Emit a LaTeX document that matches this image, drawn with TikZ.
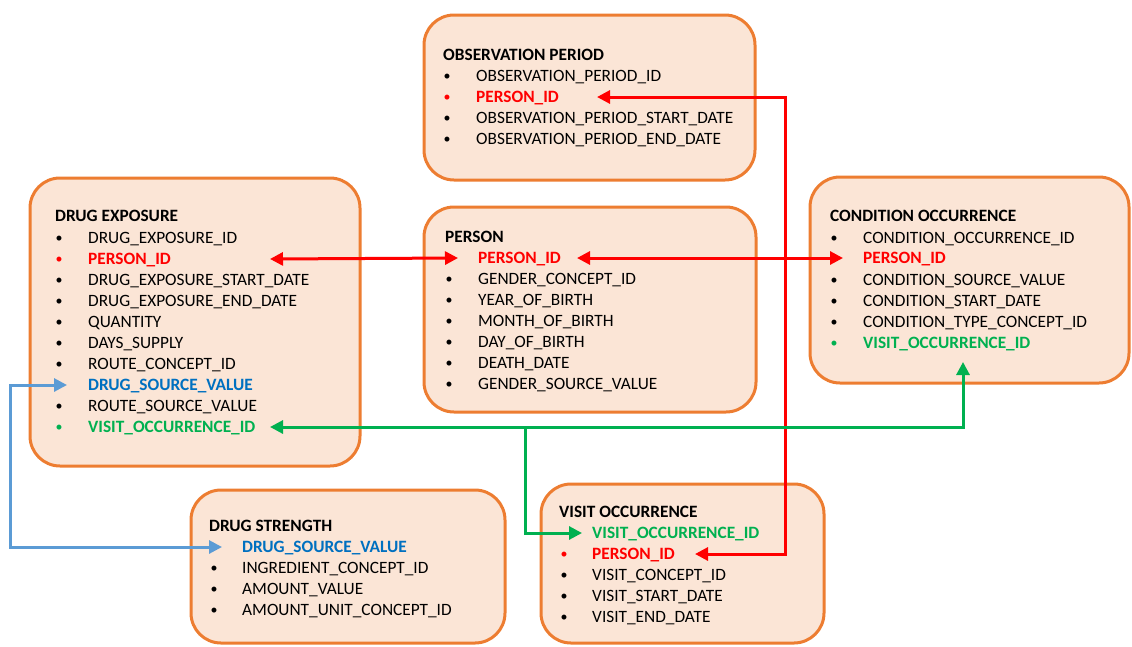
\documentclass[tikz,border=0pt]{standalone}
\usepackage{fontspec}
\setmainfont{Carlito}
\usepackage{xcolor}
\usetikzlibrary{arrows.meta}
\definecolor{tblfill}{HTML}{FBE5D6}
\definecolor{tblline}{HTML}{ED7D31}
\definecolor{keyred}{HTML}{FF0000}
\definecolor{keygreen}{HTML}{00B050}
\definecolor{keyblue}{HTML}{0070C0}
\definecolor{linkblue}{HTML}{5B9BD5}
\tikzset{
	tbl/.style={draw=tblline,fill=tblfill,line width=3pt,rounded corners=30pt},
	fld/.style={anchor=west,inner sep=0pt,text height=11pt,text depth=1pt,font=\fontsize{17.3}{20}\selectfont},
	ttl/.style={fld,font=\fontsize{17.3}{20}\selectfont\bfseries},
	keyfld/.style={fld,font=\fontsize{17.3}{20}\selectfont\bfseries},
	dot/.style={anchor=base,inner sep=0pt,font=\fontsize{14}{16}\selectfont},
	link/.style={line width=3pt,{Triangle[length=13pt,width=13pt]}-{Triangle[length=13pt,width=13pt]}},
	tip/.style={line width=3pt,-{Triangle[length=13pt,width=13pt]}}
}
\begin{document}
\begin{tikzpicture}[x=1pt,y=-1pt]
					\useasboundingbox (0,0) rectangle (1132,646);
					\clip (0,0) rectangle (1132,646);
					\filldraw[tbl](424,15)rectangle(755,180);
					\filldraw[tbl](30,178)rectangle(360,466);
					\filldraw[tbl](424,207)rectangle(756,412);
					\filldraw[tbl](810,177)rectangle(1129,383);
					\filldraw[tbl](191,490)rectangle(505,643);
					\filldraw[tbl](541,484)rectangle(824,643);

					\node[ttl] (obs) at (443,55){OBSERVATION PERIOD};
					\node[dot] (obs-b1) at (447,80.5){\textbullet};
					\node[fld] (obs-1) at (476,76){OBSERVATION\_PERIOD\_ID};
					\node[dot,keyred] (obs-b2) at (447,101.5){\textbullet};
					\node[keyfld,keyred] (obs-pid) at (476,97){PERSON\_ID};
					\node[dot] (obs-b3) at (447,122.5){\textbullet};
					\node[fld] (obs-3) at (476,118){OBSERVATION\_PERIOD\_START\_DATE};
					\node[dot] (obs-b4) at (447,143.5){\textbullet};
					\node[fld] (obs-4) at (476,139){OBSERVATION\_PERIOD\_END\_DATE};

					\node[ttl] (de) at (55,216){DRUG EXPOSURE};
					\node[dot] (de-b1) at (59,242.5){\textbullet};
					\node[fld] (de-1) at (88,238){DRUG\_EXPOSURE\_ID};
					\node[dot,keyred] (de-b2) at (59,263.5){\textbullet};
					\node[keyfld,keyred] (de-pid) at (88,259){PERSON\_ID};
					\node[dot] (de-b3) at (59,284.5){\textbullet};
					\node[fld] (de-3) at (88,280){DRUG\_EXPOSURE\_START\_DATE};
					\node[dot] (de-b4) at (59,305.5){\textbullet};
					\node[fld] (de-4) at (88,301){DRUG\_EXPOSURE\_END\_DATE};
					\node[dot] (de-b5) at (59,326.5){\textbullet};
					\node[fld] (de-5) at (88,322){QUANTITY};
					\node[dot] (de-b6) at (59,347.5){\textbullet};
					\node[fld] (de-6) at (88,343){DAYS\_SUPPLY};
					\node[dot] (de-b7) at (59,368.5){\textbullet};
					\node[fld] (de-7) at (88,364){ROUTE\_CONCEPT\_ID};
					\node[keyfld,keyblue] (de-dsv) at (88,385){DRUG\_SOURCE\_VALUE};
					\node[dot] (de-b9) at (59,410.5){\textbullet};
					\node[fld] (de-9) at (88,406){ROUTE\_SOURCE\_VALUE};
					\node[dot,keygreen] (de-b10) at (59,431.5){\textbullet};
					\node[keyfld,keygreen] (de-vis) at (88,427){VISIT\_OCCURRENCE\_ID};

					\node[ttl] (per) at (445,237){PERSON};
					\node[keyfld,keyred] (per-pid) at (478,258){PERSON\_ID};
					\node[dot] (per-b2) at (449,283.5){\textbullet};
					\node[fld] (per-2) at (478,279){GENDER\_CONCEPT\_ID};
					\node[dot] (per-b3) at (449,304.5){\textbullet};
					\node[fld] (per-3) at (478,300){YEAR\_OF\_BIRTH};
					\node[dot] (per-b4) at (449,325.5){\textbullet};
					\node[fld] (per-4) at (478,321){MONTH\_OF\_BIRTH};
					\node[dot] (per-b5) at (449,346.5){\textbullet};
					\node[fld] (per-5) at (478,342){DAY\_OF\_BIRTH};
					\node[dot] (per-b6) at (449,367.5){\textbullet};
					\node[fld] (per-6) at (478,363){DEATH\_DATE};
					\node[dot] (per-b7) at (449,388.5){\textbullet};
					\node[fld] (per-7) at (478,384){GENDER\_SOURCE\_VALUE};

					\node[ttl] (con) at (830,216){CONDITION OCCURRENCE};
					\node[dot] (con-b1) at (834,242.5){\textbullet};
					\node[fld] (con-1) at (863,238){CONDITION\_OCCURRENCE\_ID};
					\node[keyfld,keyred] (con-pid) at (863,258){PERSON\_ID};
					\node[dot] (con-b3) at (834,284.5){\textbullet};
					\node[fld] (con-3) at (863,280){CONDITION\_SOURCE\_VALUE};
					\node[dot] (con-b4) at (834,305.5){\textbullet};
					\node[fld] (con-4) at (863,301){CONDITION\_START\_DATE};
					\node[dot] (con-b5) at (834,326.5){\textbullet};
					\node[fld] (con-5) at (863,322){CONDITION\_TYPE\_CONCEPT\_ID};
					\node[dot,keygreen] (con-b6) at (834,347.5){\textbullet};
					\node[keyfld,keygreen] (con-vis) at (863,343){VISIT\_OCCURRENCE\_ID};

					\node[ttl] (ds) at (209,526){DRUG STRENGTH};
					\node[keyfld,keyblue] (ds-dsv) at (242,547){DRUG\_SOURCE\_VALUE};
					\node[dot] (ds-b2) at (214,572.5){\textbullet};
					\node[fld] (ds-2) at (242,568){INGREDIENT\_CONCEPT\_ID};
					\node[dot] (ds-b3) at (214,593.5){\textbullet};
					\node[fld] (ds-3) at (242,589){AMOUNT\_VALUE};
					\node[dot] (ds-b4) at (214,614.5){\textbullet};
					\node[fld] (ds-4) at (242,610){AMOUNT\_UNIT\_CONCEPT\_ID};

					\node[ttl] (vis) at (559,512){VISIT OCCURRENCE};
					\node[keyfld,keygreen] (vis-vo) at (592,533){VISIT\_OCCURRENCE\_ID};
					\node[dot,keyred] (vis-b2) at (564,558.5){\textbullet};
					\node[keyfld,keyred] (vis-pid) at (592,554){PERSON\_ID};
					\node[dot] (vis-b3) at (564,579.5){\textbullet};
					\node[fld] (vis-3) at (592,575){VISIT\_CONCEPT\_ID};
					\node[dot] (vis-b4) at (564,600.5){\textbullet};
					\node[fld] (vis-4) at (592,596){VISIT\_START\_DATE};
					\node[dot] (vis-b5) at (564,621.5){\textbullet};
					\node[fld] (vis-5) at (592,617){VISIT\_END\_DATE};

					\coordinate (de-tip) at (270,427);
					\coordinate (rbus) at (785,300);
					\coordinate (gjoin) at (525,427);
					\coordinate (con-tip) at (963,362);
					\coordinate (bbus) at (10,460);

					\draw[link,keyred] (de-tip |- de-pid) -- ([xshift=-20pt]per-pid.west);
					\draw[link,keyred] ([xshift=16pt]per-pid.east) -- ([xshift=-20pt]con-pid.west);
					\draw[link,keyred] ([xshift=38pt]obs-pid.east) -| (rbus) |- ([xshift=20pt]vis-pid.east);
					\draw[link,keygreen] (de-tip) -| (con-tip);
					\draw[tip,keygreen] (gjoin) |- ([xshift=-10pt]vis-vo.west);
					\draw[link,linkblue] ([xshift=-21pt]de-dsv.west) -| (bbus) |- ([xshift=-20pt]ds-dsv.west);
				\end{tikzpicture}
\end{document}
